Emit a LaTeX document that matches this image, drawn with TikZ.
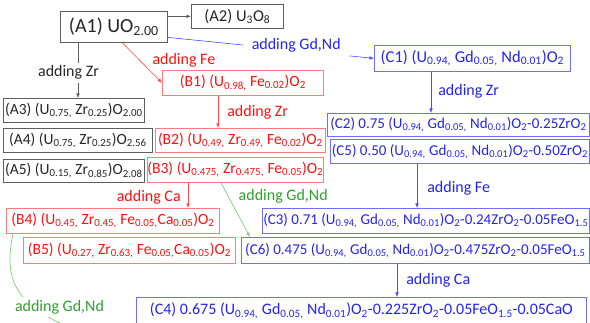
\documentclass[tikz,border=0pt]{standalone}
\usepackage{fontspec}
\setmainfont{Carlito}
\usetikzlibrary{arrows.meta}

\newcommand{\sbs}[1]{\textsubscript{#1}}
\newcommand{\fsz}[1]{\fontsize{#1}{#1}\selectfont}

\definecolor{grayline}{HTML}{5E5E5E}
\definecolor{graytext}{HTML}{262626}
\definecolor{redline}{HTML}{FF7A7A}
\definecolor{redarrow}{HTML}{FF4A4A}
\definecolor{redtext}{HTML}{FF1010}
\definecolor{blueline}{HTML}{6E6EFF}
\definecolor{bluearrow}{HTML}{4A4AFF}
\definecolor{bluetext}{HTML}{2424F0}
\definecolor{greenline}{HTML}{80CC80}
\definecolor{greenarrow}{HTML}{4CB04C}
\definecolor{greentext}{HTML}{2EA02E}

\begin{document}
\begin{tikzpicture}[x=1pt,y=-1pt,
  box/.style={draw, line width=0.75pt, inner sep=0pt, anchor=north west, align=center},
  graybox/.style={box, draw=grayline, text=graytext, font=\fsz{15.5}},
  redbox/.style={box, draw=redline, text=redtext, font=\fsz{15.6}},
  bluebox/.style={box, draw=blueline, text=bluetext, font=\fsz{15}},
  lab/.style={inner sep=0pt, font=\fsz{16}},
  tip/.style={-{Latex[length=4.5pt,width=3.6pt]}},
  grayconn/.style={tip, draw=grayline, line width=0.6pt},
  redconn/.style={tip, draw=redarrow, line width=0.6pt},
  blueconn/.style={tip, draw=bluearrow, line width=0.6pt},
  greenconn/.style={tip, draw=greenline, line width=0.7pt},
]
\useasboundingbox (0,0) rectangle (590,323);
\fill[white] (0,0) rectangle (590,323);
\clip (0,0) rectangle (590,323);

% ---- UO2 family (gray) ----
\node[graybox, font=\fsz{20}, minimum width=107pt, minimum height=31pt] (A1) at (60,11) {(A1) UO\sbs{2.00}};
\node[graybox, font=\fsz{16.5}, minimum width=92pt, minimum height=24pt] (A2) at (191,4) {(A2) U\sbs{3}O\sbs{8}};
\node[graybox, minimum width=141pt, minimum height=24pt] (A3) at (3,98) {(A3) (U\sbs{0.75,} Zr\sbs{0.25})O\sbs{2.00}};
\node[graybox, minimum width=149pt, minimum height=24pt] (A4) at (3,128) {(A4) (U\sbs{0.75,} Zr\sbs{0.25})O\sbs{2.56}};
\node[graybox, minimum width=141pt, minimum height=23pt] (A5) at (3,159) {(A5) (U\sbs{0.15,} Zr\sbs{0.85})O\sbs{2.08}};

% ---- Fe-doped family (red) ----
\node[redbox, minimum width=161pt, minimum height=25pt] (B1) at (162,70) {(B1) (U\sbs{0.98,} Fe\sbs{0.02})O\sbs{2}};
\node[redbox, minimum width=170pt, minimum height=24pt] (B2) at (155,128) {(B2) (U\sbs{0.49,} Zr\sbs{0.49,} Fe\sbs{0.02})O\sbs{2}};
\node[redbox, minimum width=171pt, minimum height=25pt] (B3) at (147,157) {(B3) (U\sbs{0.475,} Zr\sbs{0.475,} Fe\sbs{0.05})O\sbs{2}};
\node[redbox, minimum width=213pt, minimum height=25pt] (B4) at (6,208) {(B4) (U\sbs{0.45,} Zr\sbs{0.45,} Fe\sbs{0.05,}Ca\sbs{0.05})O\sbs{2}};
\node[redbox, minimum width=212pt, minimum height=26pt] (B5) at (23,237) {(B5) (U\sbs{0.27,} Zr\sbs{0.63,} Fe\sbs{0.05,}Ca\sbs{0.05})O\sbs{2}};

% ---- Gd,Nd-doped family (blue) ----
\node[bluebox, font=\fsz{16.5}, minimum width=196pt, minimum height=26pt] (C1) at (374,45) {(C1) (U\sbs{0.94,} Gd\sbs{0.05,} Nd\sbs{0.01})O\sbs{2}};
\node[bluebox, minimum width=262pt, minimum height=23pt] (C2) at (327,113) {(C2) 0.75 (U\sbs{0.94,} Gd\sbs{0.05,} Nd\sbs{0.01})O\sbs{2}-0.25ZrO\sbs{2}};
\node[bluebox, minimum width=259pt, minimum height=24pt] (C5) at (330,139) {(C5) 0.50 (U\sbs{0.94,} Gd\sbs{0.05,} Nd\sbs{0.01})O\sbs{2}-0.50ZrO\sbs{2}};
\node[bluebox, minimum width=327pt, minimum height=25pt] (C3) at (262,208) {(C3) 0.71 (U\sbs{0.94,} Gd\sbs{0.05,} Nd\sbs{0.01})O\sbs{2}-0.24ZrO\sbs{2}-0.05FeO\sbs{1.5}};
\node[bluebox, minimum width=348pt, minimum height=26pt] (C6) at (241,237) {(C6) 0.475 (U\sbs{0.94,} Gd\sbs{0.05,} Nd\sbs{0.01})O\sbs{2}-0.475ZrO\sbs{2}-0.05FeO\sbs{1.5}};
\node[bluebox, font=\fsz{16}, minimum width=450pt, minimum height=27pt] (C4) at (136,297) {(C4) 0.675 (U\sbs{0.94,} Gd\sbs{0.05,} Nd\sbs{0.01})O\sbs{2}-0.225ZrO\sbs{2}-0.05FeO\sbs{1.5}-0.05CaO};

% ---- connectors from UO2 ----
\draw[grayconn] (A1.east |- A2.west) -- (A2.west);
\draw[grayconn] ([xshift=18pt]A1.south west) -- ([xshift=75pt]A3.north west)
  node[lab, pos=0.54, xshift=-9.5pt, fill=white, inner xsep=1pt, inner ysep=3pt, text=graytext] {adding Zr};
\draw[redconn] ([xshift=8.5pt]A1.south) -- (B1.west)
  node[lab, pos=0.45, anchor=west, xshift=12pt, text=redtext] {adding Fe};
\draw[blueconn] ([yshift=-10.5pt]A1.east) -- (C1.west)
  node[lab, pos=0.623, yshift=5pt, fill=white, inner xsep=9pt, inner ysep=4pt, text=bluetext] {adding Gd,Nd};

% ---- red chain ----
\draw[redconn] ([xshift=56pt]B1.south west) -- ([xshift=63pt]B2.north west)
  node[lab, pos=0.5, anchor=west, xshift=9pt, text=redtext] {adding Zr};
\draw[redconn] ([xshift=41pt]B3.south west) -- ([xshift=182pt]B4.north west)
  node[lab, pos=0.58, anchor=east, xshift=-7pt, text=redtext] {adding Ca};
\draw[greenconn] ([xshift=74pt]B3.south west) -- ([xshift=9pt]C6.north west)
  node[lab, pos=0.255, anchor=west, xshift=10pt, text=greentext] {adding Gd,Nd};

% ---- curved Gd,Nd branch leaving B4 ----
\coordinate (B4out) at (125,345);
\draw[greenline, line width=0.7pt] ([xshift=7pt]B4.south west) .. controls (1,290) and (22,318) .. (B4out);
\node[lab, fill=white, inner sep=3pt, text=greentext] (glab) at (59.5,307) {adding Gd,Nd};

% ---- blue chain ----
\draw[blueconn] ([xshift=57pt]C1.south west) -- ([xshift=104pt]C2.north west)
  node[lab, pos=0.465, anchor=west, xshift=7pt, text=bluetext] {adding Zr};
\draw[blueconn] ([xshift=87pt]C5.south west) -- ([xshift=155pt]C3.north west)
  node[lab, pos=0.56, anchor=west, xshift=10pt, text=bluetext] {adding Fe};
\draw[blueconn] ([xshift=156pt]C6.south west) -- ([xshift=261pt]C4.north west)
  node[lab, pos=0.5, anchor=west, xshift=9pt, text=bluetext] {adding Ca};
\end{tikzpicture}
\end{document}
